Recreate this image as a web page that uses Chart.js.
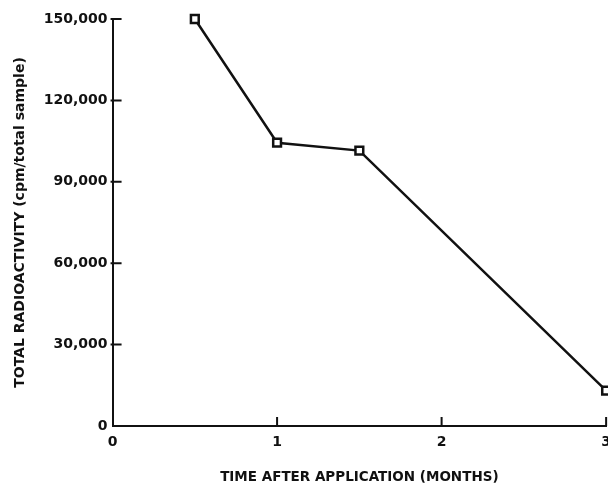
<!DOCTYPE html>
<html>
<head>
<meta charset="utf-8">
<script src="https://cdn.jsdelivr.net/npm/chart.js@4.4.1/dist/chart.umd.min.js"></script>
<style>
  html, body { margin: 0; padding: 0; background: #fff; overflow: hidden; }
  #wrap { width: 619px; height: 488px; position: relative; }
</style>
</head>
<body>
<div id="wrap"><canvas id="chart"></canvas></div>
<script>
// time after application, in months
const months = [0.5, 1, 1.5, 3];
// total radioactivity, cpm per total sample
const radioactivity = [150000, 104400, 101500, 13000];

const yTicks = [0, 30000, 60000, 90000, 120000, 150000];
const xTicks = [0, 1, 2, 3];

const INK = '#111111';
const FONT = 'DejaVu Sans';

// draws the small tick marks pointing into the plot, like the original
const inwardTicks = {
    id: 'inwardTicks',
    afterDraw(chart) {
        const ctx = chart.ctx;
        const x = chart.scales.x;
        const y = chart.scales.y;
        const area = chart.chartArea;
        ctx.save();
        ctx.strokeStyle = INK;
        ctx.lineWidth = 2;
        ctx.beginPath();
        for (let i = 1; i < yTicks.length; i++) {
            const py = y.getPixelForValue(yTicks[i]);
            ctx.moveTo(area.left - 2, py);
            ctx.lineTo(area.left + 9, py);
        }
        for (let i = 1; i < xTicks.length; i++) {
            const px = x.getPixelForValue(xTicks[i]);
            ctx.moveTo(px, area.bottom);
            ctx.lineTo(px, area.bottom - 9);
        }
        ctx.stroke();
        ctx.restore();
    }
};

const points = [];
for (let i = 0; i < months.length; i++) {
    points.push({ x: months[i], y: radioactivity[i] });
}

new Chart(document.getElementById('chart'), {
    type: 'line',
    data: {
        datasets: [{
            data: points,
            borderColor: INK,
            borderWidth: 2.5,
            pointStyle: 'rect',
            pointRadius: 5.5,
            pointBorderWidth: 2.5,
            pointBackgroundColor: '#ffffff',
            pointBorderColor: INK,
            tension: 0,
            clip: false
        }]
    },
    options: {
        responsive: true,
        maintainAspectRatio: false,
        animation: false,
        layout: { padding: { top: 19, left: 12, right: 0, bottom: 2 } },
        plugins: {
            legend: { display: false },
            tooltip: { enabled: false }
        },
        scales: {
            x: {
                type: 'linear',
                min: 0,
                max: 3,
                afterBuildTicks(scale) {
                    scale.ticks = xTicks.map(v => ({ value: v }));
                },
                grid: { display: false, drawTicks: false },
                border: { display: true, color: INK, width: 2 },
                ticks: {
                    color: INK,
                    padding: 8,
                    font: { family: FONT, size: 14, weight: 'bold' }
                },
                title: {
                    display: true,
                    text: 'TIME AFTER APPLICATION (MONTHS)',
                    color: INK,
                    padding: { top: 11, bottom: 0 },
                    font: { family: FONT, size: 13.5, weight: 'bold' }
                }
            },
            y: {
                min: 0,
                max: 150000,
                afterBuildTicks(scale) {
                    scale.ticks = yTicks.map(v => ({ value: v }));
                },
                grid: { display: false, drawTicks: false },
                border: { display: true, color: INK, width: 2 },
                ticks: {
                    color: INK,
                    padding: 5,
                    font: { family: FONT, size: 14, weight: 'bold' },
                    callback: v => v.toLocaleString('en-US')
                },
                title: {
                    display: true,
                    text: 'TOTAL RADIOACTIVITY (cpm/total sample)',
                    color: INK,
                    padding: { top: 0, bottom: 10 },
                    font: { family: FONT, size: 14, weight: 'bold' }
                }
            }
        }
    },
    plugins: [inwardTicks]
});
</script>
</body>
</html>
